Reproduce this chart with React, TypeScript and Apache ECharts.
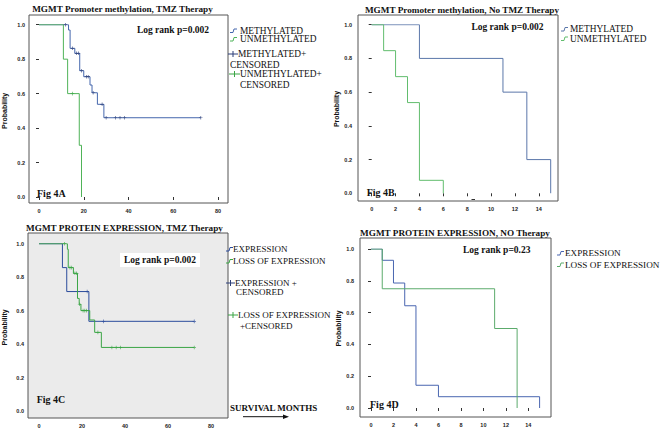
import React, { useEffect, useRef } from "react";
import * as echarts from "echarts";

// ---------- Panel A: MGMT promoter methylation, TMZ therapy ----------
const aMethTime = [0, 13.2, 13.9, 16.0, 18.2, 20.0, 22.8, 23.7, 26.1, 29.0, 72.3];
const aMethSurv = [1, 0.969, 0.863, 0.834, 0.733, 0.698, 0.65, 0.605, 0.538, 0.46, 0.46];
const aMethCensTime = [11.8, 15.0, 16.8, 17.6, 19.0, 21.2, 22.0, 24.2, 28.2, 30.0, 34.2, 36.2, 38.2, 72.3];
const aMethCensSurv = [1, 0.863, 0.834, 0.834, 0.733, 0.698, 0.698, 0.605, 0.538, 0.46, 0.46, 0.46, 0.46, 0.46];
const aUnmethTime = [0, 10.9, 12.8, 18.0, 19.0];
const aUnmethSurv = [1, 0.8, 0.6, 0.3, 0];
const aUnmethCensTime = [14.9];
const aUnmethCensSurv = [0.6];

// ---------- Panel B: MGMT promoter methylation, no TMZ therapy ----------
const bMethTime = [0, 4, 11, 13, 15];
const bMethSurv = [1, 0.8, 0.6, 0.2, 0];
const bUnmethTime = [0, 1, 2, 3, 4, 6];
const bUnmethSurv = [1, 0.846, 0.692, 0.538, 0.077, 0];

// ---------- Panel C: MGMT protein expression, TMZ therapy ----------
const cExpTime = [0, 10.9, 12.9, 23.2, 72.2];
const cExpSurv = [1, 0.857, 0.714, 0.536, 0.536];
const cExpCensTime = [22.4, 30.0, 72.2];
const cExpCensSurv = [0.714, 0.536, 0.536];
const cLossTime = [0, 13.2, 13.6, 16.0, 17.9, 18.7, 19.5, 23.6, 25.9, 29.0, 72.2];
const cLossSurv = [1, 0.967, 0.857, 0.823, 0.673, 0.638, 0.6, 0.544, 0.47, 0.38, 0.38];
const cLossCensTime = [11.8, 14.4, 15.2, 16.7, 17.5, 18.9, 20.5, 21.3, 22.1, 27.4, 33.9, 35.9, 37.9, 72.2];
const cLossCensSurv = [1, 0.857, 0.857, 0.823, 0.823, 0.638, 0.6, 0.6, 0.6, 0.47, 0.38, 0.38, 0.38, 0.38];

// ---------- Panel D: MGMT protein expression, no therapy ----------
const dExpTime = [0, 1, 2, 3, 4, 6, 15];
const dExpSurv = [1, 0.929, 0.786, 0.643, 0.143, 0.071, 0];
const dLossTime = [0, 1, 11, 13];
const dLossSurv = [1, 0.75, 0.5, 0];

// ---------- tick labels ----------
const longXTicks = [0, 20, 40, 60, 80];
const shortXTicks = [0, 2, 4, 6, 8, 10, 12, 14];
const yTicks = [0, 0.2, 0.4, 0.6, 0.8, 1.0];

const titles = [
  "MGMT Promoter methylation, TMZ Therapy",
  "MGMT Promoter methylation, No TMZ Therapy",
  "MGMT PROTEIN EXPRESSION, TMZ Therapy",
  "MGMT PROTEIN EXPRESSION, NO Therapy",
];

const SERIF = "'Liberation Serif', 'Times New Roman', serif";
const SANS = "'Liberation Sans', Arial, sans-serif";
const PLUS = "path://M2,0H3V2H5V3H3V5H2V3H0V2H2Z";

const zip = (t: number[], s: number[]) => t.map((v, i) => [v, s[i]]);

function kmLine(idx: number, t: number[], s: number[], color: string, name: string) {
  return {
    type: "line",
    name,
    xAxisIndex: idx,
    yAxisIndex: idx,
    data: zip(t, s),
    step: "end",
    showSymbol: false,
    symbol: "none",
    silent: true,
    lineStyle: { width: 1, color },
    itemStyle: { color },
    z: 3,
  };
}

function censor(idx: number, t: number[], s: number[], color: string, name: string) {
  return {
    type: "scatter",
    name,
    xAxisIndex: idx,
    yAxisIndex: idx,
    data: zip(t, s),
    symbol: PLUS,
    symbolSize: 3.6,
    silent: true,
    itemStyle: { color },
    z: 4,
  };
}

function xAxisFor(idx: number, max: number, interval: number, ticks: number[], offset: number) {
  return {
    gridIndex: idx,
    type: "value",
    min: 0,
    max,
    interval,
    offset,
    axisLine: { show: false },
    splitLine: { show: false },
    axisTick: { show: true, length: 3, customValues: ticks, lineStyle: { color: "#333", width: 1 } },
    axisLabel: {
      customValues: ticks,
      fontSize: 5.5,
      fontWeight: "bold",
      fontFamily: SANS,
      color: "#222",
      margin: 5,
    },
  };
}

function yAxisFor(idx: number, offset: number, nameGap: number) {
  return {
    gridIndex: idx,
    type: "value",
    min: 0,
    max: 1,
    interval: 0.2,
    offset,
    name: "Probability",
    nameLocation: "middle",
    nameGap,
    nameTextStyle: { fontSize: 7, fontWeight: "bold", fontFamily: SANS, color: "#111" },
    axisLine: { show: false },
    splitLine: { show: false },
    axisTick: { show: true, length: 3, customValues: yTicks, lineStyle: { color: "#333", width: 1 } },
    axisLabel: {
      customValues: yTicks,
      formatter: (v: number) => v.toFixed(1),
      fontSize: 5.5,
      fontWeight: "bold",
      fontFamily: SANS,
      color: "#222",
      margin: 6,
    },
  };
}

function txt(x: number, y: number, text: string, size: number, bold: boolean, align = "left", extra: any = {}) {
  return {
    type: "text",
    x,
    y,
    z: 10,
    style: {
      text,
      fontSize: size,
      fontFamily: SERIF,
      fontWeight: bold ? "bold" : "normal",
      fill: "#111",
      align,
      textAlign: align,
      verticalAlign: "middle",
      textVerticalAlign: "middle",
      ...extra,
    },
  };
}

function frame(x1: number, y1: number, x2: number, y2: number, fill = "none") {
  return {
    type: "rect",
    z: 1,
    shape: { x: x1, y: y1, width: x2 - x1, height: y2 - y1 },
    style: { fill, stroke: "#555", lineWidth: 1 },
  };
}

function stepGlyph(x: number, y: number, color: string) {
  return {
    type: "polyline",
    z: 10,
    shape: { points: [[x, y + 2], [x + 3, y + 2], [x + 4, y - 1.5], [x + 7, y - 1.5]] },
    style: { stroke: color, lineWidth: 1, fill: "none" },
  };
}

function censGlyph(x: number, y: number, w: number, color: string) {
  return {
    type: "group",
    z: 10,
    children: [
      { type: "line", z: 10, shape: { x1: x, y1: y, x2: x + w, y2: y }, style: { stroke: color, lineWidth: 1 } },
      { type: "line", z: 10, shape: { x1: x + w / 2, y1: y - 3, x2: x + w / 2, y2: y + 3 }, style: { stroke: color, lineWidth: 1 } },
    ],
  };
}

export default function App() {
  const ref = useRef<HTMLDivElement>(null);

  useEffect(() => {
    if (!ref.current) return;
    const chart = echarts.init(ref.current, undefined, { renderer: "svg" });

    const blueA = "#4567ad";
    const greenA = "#4fb358";
    const blueB = "#5b77aa";
    const greenB = "#62bd6e";
    const blueC = "#2c4c9c";
    const greenC = "#3aa545";
    const blueD = "#4a66b0";
    const greenD = "#5cab6c";

    const graphic: any[] = [
      // frames
      frame(29, 15, 228, 203),
      frame(358, 15, 558, 201),
      frame(28, 233, 228, 418, "#ebebeb"),
      frame(360, 238, 551, 417),
      // titles
      txt(122.5, 9, titles[0], 9.2, true, "center"),
      txt(462, 10, titles[1], 9.2, true, "center"),
      txt(124.5, 228, titles[2], 9.2, true, "center"),
      txt(455, 233, titles[3], 9.2, true, "center"),
      // log rank
      txt(173, 30, "Log rank p=0.002", 9.5, true, "center"),
      txt(507.5, 27, "Log rank p=0.002", 9.5, true, "center"),
      { type: "rect", z: 9, shape: { x: 120, y: 253, width: 80, height: 14 }, style: { fill: "#ffffff" } },
      txt(160, 260, "Log rank p=0.002", 9.5, true, "center"),
      txt(496.7, 250, "Log rank p=0.23", 9.5, true, "center"),
      // fig labels
      txt(37, 193, "Fig 4A", 10, true),
      txt(366.7, 192.3, "Fig 4B", 10, true),
      txt(36.7, 399, "Fig 4C", 10, true),
      txt(370, 404, "Fig 4D", 10, true),
      // legend A
      stepGlyph(230, 30.5, blueA),
      txt(240, 30.5, "METHYLATED", 9.4, false),
      stepGlyph(230, 39, greenA),
      txt(240, 39, "UNMETHYLATED", 9.4, false),
      censGlyph(228, 54, 10, "#2c3f78"),
      txt(238, 54, "METHYLATED+", 9.4, false),
      txt(230, 64.5, "CENSORED", 9.4, false),
      censGlyph(229, 74, 11, greenC),
      txt(240, 74, "UNMETHYLATED+", 9.4, false),
      txt(240, 84.5, "CENSORED", 9.4, false),
      // legend B
      stepGlyph(561, 29, blueB),
      txt(570, 29, "METHYLATED", 9.4, false),
      stepGlyph(561, 38.5, greenB),
      txt(570, 38.5, "UNMETHYLATED", 9.4, false),
      // legend C
      stepGlyph(226, 249, blueC),
      txt(233, 249, "EXPRESSION", 9, false),
      stepGlyph(226, 261, greenC),
      txt(233, 261, "LOSS OF EXPRESSION", 9, false),
      censGlyph(226, 283, 9, "#2c3f78"),
      txt(235, 283, "EXPRESSION +", 9, false),
      txt(236, 292, "CENSORED", 9, false),
      censGlyph(228, 315, 10, greenC),
      txt(238, 315, "LOSS OF EXPRESSION", 9, false),
      txt(240, 326, "+CENSORED", 9, false),
      // legend D
      stepGlyph(557, 253, blueD),
      txt(565, 253, "EXPRESSION", 9.2, false),
      stepGlyph(557, 264.5, greenD),
      txt(565, 264.5, "LOSS OF EXPRESSION", 9.2, false),
      // survival months arrow
      txt(230, 408, "SURVIVAL MONTHS", 9, true),
      { type: "line", z: 10, shape: { x1: 243, y1: 416.7, x2: 285, y2: 416.7 }, style: { stroke: "#111", lineWidth: 1 } },
      { type: "polygon", z: 10, shape: { points: [[283, 414.5], [289, 416.7], [283, 419]] }, style: { fill: "#111" } },
      // stray mark in panel B
      { type: "line", z: 10, shape: { x1: 471.5, y1: 199.5, x2: 475, y2: 199.5 }, style: { stroke: "#333", lineWidth: 1 } },
    ];

    chart.setOption({
      animation: false,
      backgroundColor: "#ffffff",
      grid: [
        { left: 37, top: 24.7, width: 181, height: 172.3 },
        { left: 371.7, top: 24.7, width: 179, height: 168.6 },
        { left: 37, top: 243.7, width: 174, height: 167.3 },
        { left: 371, top: 249, width: 168.6, height: 159 },
      ],
      xAxis: [
        xAxisFor(0, 80, 20, longXTicks, 6),
        xAxisFor(1, 15, 2, shortXTicks, 7.7),
        xAxisFor(2, 80, 20, longXTicks, 7),
        xAxisFor(3, 15, 2, shortXTicks, 9),
      ],
      yAxis: [
        yAxisFor(0, 8, 23),
        yAxisFor(1, 13.7, 15),
        yAxisFor(2, 9, 22),
        yAxisFor(3, 11, 17),
      ],
      series: [
        kmLine(0, aMethTime, aMethSurv, blueA, "METHYLATED"),
        kmLine(0, aUnmethTime, aUnmethSurv, greenA, "UNMETHYLATED"),
        censor(0, aMethCensTime, aMethCensSurv, "#2c3f78", "METHYLATED censored"),
        censor(0, aUnmethCensTime, aUnmethCensSurv, greenC, "UNMETHYLATED censored"),
        kmLine(1, bMethTime, bMethSurv, blueB, "METHYLATED"),
        kmLine(1, bUnmethTime, bUnmethSurv, greenB, "UNMETHYLATED"),
        kmLine(2, cExpTime, cExpSurv, blueC, "EXPRESSION"),
        kmLine(2, cLossTime, cLossSurv, greenC, "LOSS OF EXPRESSION"),
        censor(2, cExpCensTime, cExpCensSurv, blueC, "EXPRESSION censored"),
        censor(2, cLossCensTime, cLossCensSurv, greenC, "LOSS OF EXPRESSION censored"),
        kmLine(3, dExpTime, dExpSurv, blueD, "EXPRESSION"),
        kmLine(3, dLossTime, dLossSurv, greenD, "LOSS OF EXPRESSION"),
      ],
      graphic,
    } as any);

    return () => chart.dispose();
  }, []);

  return (
    <div
      ref={ref}
      style={{ position: "fixed", left: 0, top: 0, width: 660, height: 431, background: "#fff" }}
    />
  );
}
